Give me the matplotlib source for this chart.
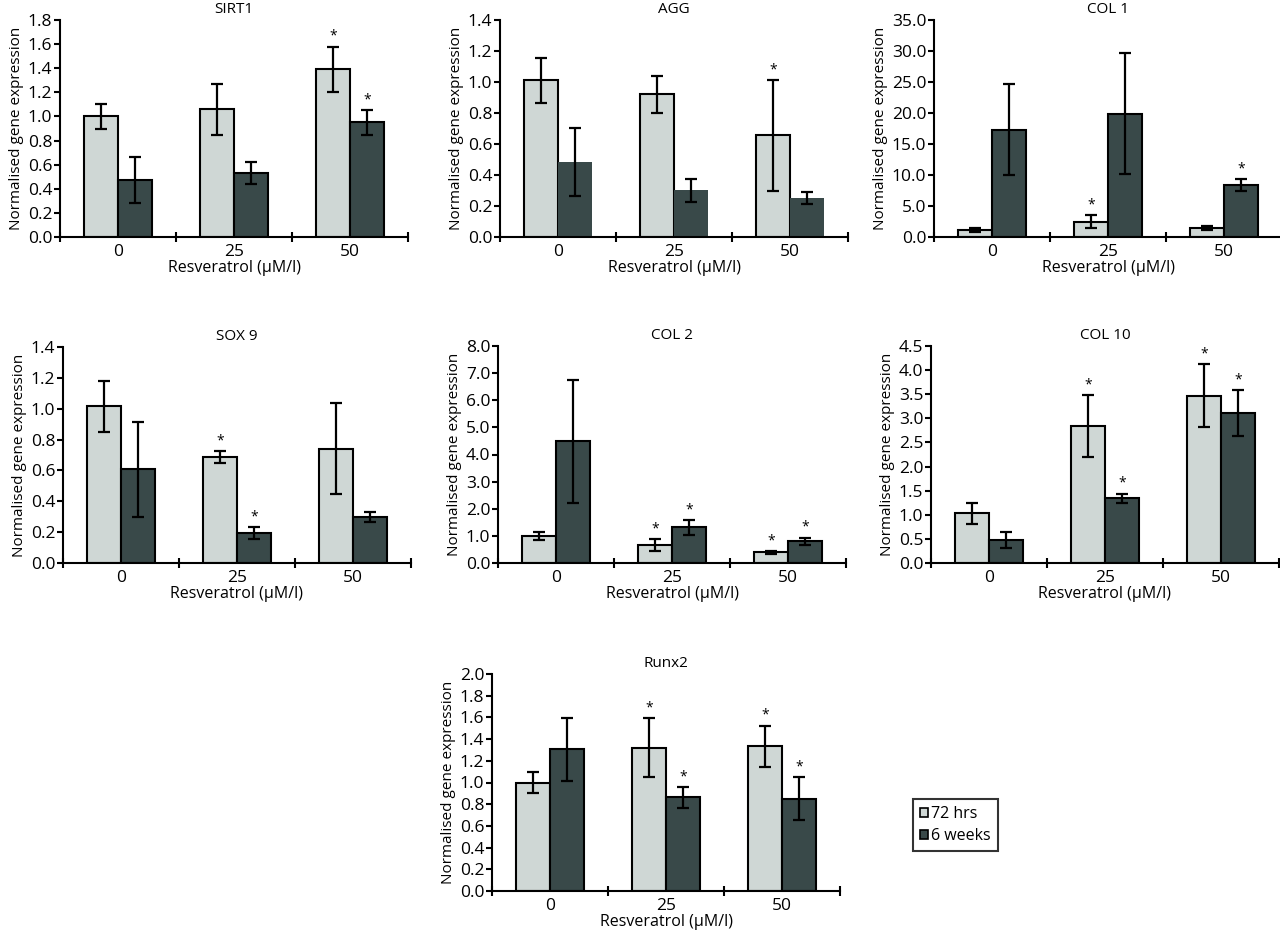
"""Resveratrol gene expression panels (72 hrs vs 6 weeks)."""

import matplotlib
matplotlib.use("Agg")
import matplotlib.pyplot as plt
from matplotlib.patches import Patch
from matplotlib.ticker import FormatStrFormatter, MultipleLocator

plt.rcParams["font.family"] = ["Open Sans", "DejaVu Sans"]

# Section: data.
DOSES = ["0", "25", "50"]
SERIES_LABELS = ["72 hrs", "6 weeks"]

SIRT1_72H = [1.00, 1.06, 1.39]
SIRT1_72H_ERR = [0.105, 0.21, 0.19]
SIRT1_6W = [0.47, 0.53, 0.95]
SIRT1_6W_ERR = [0.19, 0.09, 0.105]
SIRT1_STAR_72H = [False, False, True]
SIRT1_STAR_6W = [False, False, True]

AGG_72H = [1.01, 0.92, 0.655]
AGG_72H_ERR = [0.145, 0.12, 0.36]
AGG_6W = [0.485, 0.30, 0.25]
AGG_6W_ERR = [0.22, 0.075, 0.04]
AGG_STAR_72H = [False, False, True]
AGG_STAR_6W = [False, False, False]

COL1_72H = [1.1, 2.45, 1.5]
COL1_72H_ERR = [0.35, 1.05, 0.35]
COL1_6W = [17.3, 19.9, 8.4]
COL1_6W_ERR = [7.3, 9.7, 0.95]
COL1_STAR_72H = [False, True, False]
COL1_STAR_6W = [False, False, True]

SOX9_72H = [1.015, 0.685, 0.74]
SOX9_72H_ERR = [0.165, 0.04, 0.295]
SOX9_6W = [0.607, 0.194, 0.298]
SOX9_6W_ERR = [0.31, 0.04, 0.033]
SOX9_STAR_72H = [False, True, False]
SOX9_STAR_6W = [False, True, False]

COL2_72H = [1.0, 0.67, 0.39]
COL2_72H_ERR = [0.15, 0.21, 0.05]
COL2_6W = [4.48, 1.31, 0.80]
COL2_6W_ERR = [2.25, 0.26, 0.14]
COL2_STAR_72H = [False, True, True]
COL2_STAR_6W = [False, True, True]

COL10_72H = [1.03, 2.84, 3.47]
COL10_72H_ERR = [0.22, 0.65, 0.65]
COL10_6W = [0.48, 1.34, 3.11]
COL10_6W_ERR = [0.165, 0.10, 0.47]
COL10_STAR_72H = [False, True, True]
COL10_STAR_6W = [False, True, True]

RUNX2_72H = [1.00, 1.32, 1.335]
RUNX2_72H_ERR = [0.095, 0.27, 0.19]
RUNX2_6W = [1.308, 0.862, 0.852]
RUNX2_6W_ERR = [0.29, 0.10, 0.20]
RUNX2_STAR_72H = [False, True, True]
RUNX2_STAR_6W = [False, True, True]

# Section: styling and panel placement (pixel boxes: left, top, bottom).
LIGHT = "#cfd7d5"
DARK = "#394949"
W, H = 1280, 934
AX_W = 348
BAR_W = 0.29

PANELS = [
    ("SIRT1", SIRT1_72H, SIRT1_72H_ERR, SIRT1_6W, SIRT1_6W_ERR, SIRT1_STAR_72H, SIRT1_STAR_6W, 1.8, 0.2, (60, 20, 237), True),
    ("AGG", AGG_72H, AGG_72H_ERR, AGG_6W, AGG_6W_ERR, AGG_STAR_72H, AGG_STAR_6W, 1.4, 0.2, (500, 20, 237), False),
    ("COL 1", COL1_72H, COL1_72H_ERR, COL1_6W, COL1_6W_ERR, COL1_STAR_72H, COL1_STAR_6W, 35.0, 5.0, (934, 20, 237), True),
    ("SOX 9", SOX9_72H, SOX9_72H_ERR, SOX9_6W, SOX9_6W_ERR, SOX9_STAR_72H, SOX9_STAR_6W, 1.4, 0.2, (63, 347, 563), True),
    ("COL 2", COL2_72H, COL2_72H_ERR, COL2_6W, COL2_6W_ERR, COL2_STAR_72H, COL2_STAR_6W, 8.0, 1.0, (498, 346, 563), True),
    ("COL 10", COL10_72H, COL10_72H_ERR, COL10_6W, COL10_6W_ERR, COL10_STAR_72H, COL10_STAR_6W, 4.5, 0.5, (931, 346, 563), True),
    ("Runx2", RUNX2_72H, RUNX2_72H_ERR, RUNX2_6W, RUNX2_6W_ERR, RUNX2_STAR_72H, RUNX2_STAR_6W, 2.0, 0.2, (492, 674, 891), True),
]


def draw_panel(fig, title, v1, e1, v2, e2, s1, s2, ymax, step, box, dark_edge):
    left, top, bottom = box
    ax = fig.add_axes([left / W, 1 - bottom / H, AX_W / W, (bottom - top) / H])
    x = range(len(DOSES))
    x1 = [i - BAR_W / 2 for i in x]
    x2 = [i + BAR_W / 2 for i in x]
    ax.bar(x1, v1, width=BAR_W, color=LIGHT, edgecolor="black", linewidth=1.5, zorder=2)
    ax.bar(x2, v2, width=BAR_W, color=DARK, edgecolor="black" if dark_edge else DARK,
           linewidth=1.5 if dark_edge else 0, zorder=2)
    ax.errorbar(x1, v1, yerr=e1, fmt="none", ecolor="black", elinewidth=1.6, capsize=4, capthick=1.6, zorder=3)
    ax.errorbar(x2, v2, yerr=e2, fmt="none", ecolor="black", elinewidth=1.6, capsize=4, capthick=1.6, zorder=3)
    pad = ymax * 0.012
    for xs, vals, errs, stars in ((x1, v1, e1, s1), (x2, v2, e2, s2)):
        for xi, v, e, s in zip(xs, vals, errs, stars):
            if s:
                ax.text(xi, v + e + pad, "*", ha="center", va="bottom", fontsize=10)

    ax.set_xlim(-0.5, 2.5)
    ax.set_ylim(0, ymax)
    ax.yaxis.set_major_locator(MultipleLocator(step))
    ax.yaxis.set_major_formatter(FormatStrFormatter("%.1f"))
    ax.set_xticks([-0.5, 0.5, 1.5, 2.5])
    ax.set_xticklabels([])
    ax.set_xticks(list(x), minor=True)
    ax.set_xticklabels(DOSES, minor=True)
    ax.tick_params(axis="x", which="major", direction="inout", length=7, width=1.5)
    ax.tick_params(axis="x", which="minor", length=0, labelsize=12.5, pad=5)
    ax.tick_params(axis="y", direction="out", length=4, width=1.5, labelsize=12.5, pad=1.5)
    for side in ("top", "right"):
        ax.spines[side].set_visible(False)
    for side in ("left", "bottom"):
        ax.spines[side].set_linewidth(1.5)
    ax.set_title(title, fontsize=11, pad=5)
    ax.set_ylabel("Normalised gene expression", fontsize=11, labelpad=3)
    ax.set_xlabel("Resveratrol (μM/l)", fontsize=11.5, labelpad=0)
    return ax


def main():
    fig = plt.figure(figsize=(W / 100, H / 100), dpi=100)
    for panel in PANELS:
        draw_panel(fig, *panel)

    handles = [
        Patch(facecolor=LIGHT, edgecolor="black", linewidth=1.2),
        Patch(facecolor=DARK, edgecolor="black", linewidth=1.2),
    ]
    leg = fig.legend(handles, SERIES_LABELS, loc="upper left",
                     bbox_to_anchor=(913 / W, 1 - 799 / H), fontsize=11.5,
                     handlelength=0.5, handleheight=0.5, handletextpad=0.2,
                     borderpad=0.45, labelspacing=0.35, fancybox=False,
                     frameon=True, edgecolor="black", borderaxespad=0)
    leg.get_frame().set_linewidth(1.5)

    fig.savefig("out.png", dpi=100)
    plt.close(fig)


if __name__ == "__main__":
    main()
